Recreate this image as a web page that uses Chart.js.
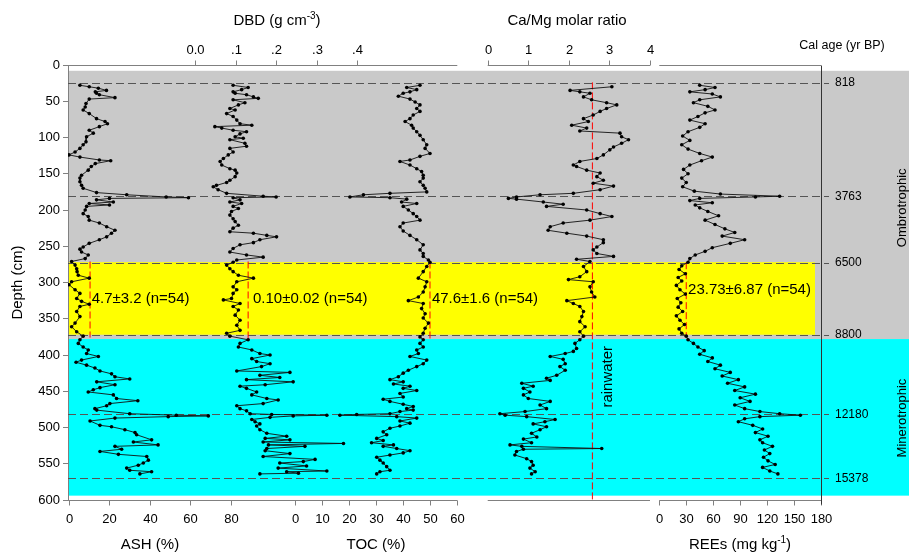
<!DOCTYPE html>
<html>
<head>
<meta charset="utf-8">
<script src="https://cdn.jsdelivr.net/npm/chart.js@4.4.0/dist/chart.umd.min.js"></script>
<style>
  body { margin: 0; background: #fff; }
</style>
</head>
<body>
<canvas id="profileChart" width="909" height="553"></canvas>
<script>
// profiles: [depth (cm), value]
const ashProfile = [[28,5.4],[30,10],[32,14.5],[35,18.5],[37,13],[39,13.6],[41,15],[45,22.7],[47,10],[53,8.4],[58,8],[62,7],[67,10],[74,13.6],[78,17.8],[81,19],[85,15],[90,10],[94,12],[99,8.7],[106,8.4],[110,7],[115,5.4],[120,3],[124,0],[127,5.4],[131,15],[132,20.6],[136,13],[140,11],[145,9.5],[152,6.2],[156,5.4],[161,5.4],[166,6.2],[170,7],[176,13.6],[179,28.5],[182,48],[183,59],[184,20],[186,13.6],[189,21.9],[191,10],[193,20],[195,8.7],[200,8],[205,7],[209,9.5],[214,10],[218,15],[223,18.6],[228,22.7],[232,21],[237,18.6],[241,15],[246,10],[251,7],[254,5.4],[258,6.2],[262,9.5],[267,8],[271,1.3],[276,3],[281,3.8],[285,4],[290,4.6],[294,10],[299,1.3],[303,0],[310,3],[315,5.4],[322,3.8],[326,6.2],[330,10],[333,5.4],[340,3.8],[347,5.4],[356,3],[361,1.3],[368,3.8],[374,7],
  [379,5.4],[384,4.6],[389,7],[393,9.5],[398,8.7],[402,14.5],[407,6.2],[410,3.5],[414,8.7],[418,12.8],[422,15.3],[426,21],[430,22.7],[433,30],[437,13.7],[441,22.7],[445,15.3],[448,12],[451,9.5],[455,21.9],[460,23.5],[463,34],[467,20.2],[470,18.6],[474,12.8],[476,13.7],[481,30],[483,53],[484,68.8],[485,49],[487,22.7],[491,10.4],[497,15.3],[499,21],[503,27.6],[507,32.6],[510,33.4],[517,40.8],[520,31.8],[524,44],[526,22.7],[530,26],[533,15.3],[537,24.4],[540,38.4],[545,39.2],[549,36.7],[552,34.2],[556,28.5],[559,30],[561,40.8],[564,35]];

const dbdProfile = [[28,0.094],[31,0.131],[34,0.115],[37,0.094],[39,0.099],[41,0.127],[44,0.144],[46,0.156],[48,0.094],[52,0.123],[55,0.107],[60,0.086],[62,0.099],[67,0.078],[71,0.094],[76,0.103],[81,0.111],[83,0.140],[85,0.049],[87,0.066],[90,0.094],[92,0.127],[95,0.111],[99,0.099],[101,0.119],[103,0.086],[108,0.123],[112,0.127],[115,0.086],[120,0.094],[124,0.082],[129,0.070],[133,0.062],[138,0.066],[143,0.086],[145,0.099],[149,0.103],[154,0.099],[159,0.086],[162,0.078],[166,0.053],[168,0.045],[172,0.057],[177,0.078],[181,0.168],[182,0.2],[183,0.094],[186,0.111],[189,0.086],[191,0.115],[195,0.094],[198,0.107],[202,0.090],[207,0.086],[212,0.094],[216,0.099],[221,0.107],[225,0.094],[230,0.086],[232,0.144],[235,0.177],[237,0.201],[241,0.160],[245,0.144],[248,0.111],[253,0.094],[258,0.086],[262,0.127],[265,0.168],[269,0.103],[272,0.094],[276,0.078],[281,0.086],[285,0.094],[290,0.107],[294,0.144],[299,0.103],[306,0.094],[310,0.103],[315,0.094],[322,0.090],[324,0.070],[329,0.111],[333,0.094],[338,0.107],[345,0.099],[352,0.111],[359,0.103],[366,0.111],[370,0.078],[374,0.086],
  [379,0.131],[384,0.111],[389,0.107],[393,0.140],[398,0.160],[400,0.185],[405,0.140],[409,0.152],[412,0.185],[416,0.164],[422,0.103],[424,0.234],[428,0.160],[431,0.209],[434,0.127],[437,0.242],[441,0.173],[443,0.111],[446,0.127],[451,0.152],[455,0.140],[460,0.177],[462,0.205],[467,0.168],[470,0.103],[474,0.111],[477,0.127],[481,0.136],[482,0.189],[483,0.325],[484,0.242],[486,0.185],[489,0.140],[492,0.148],[495,0.160],[498,0.152],[503,0.160],[508,0.177],[512,0.226],[515,0.173],[517,0.234],[520,0.168],[522,0.366],[524,0.181],[526,0.271],[529,0.177],[532,0.173],[536,0.234],[540,0.168],[544,0.296],[547,0.267],[549,0.209],[553,0.275],[556,0.205],[560,0.325],[561,0.226],[563,0.255],[564,0.160]];

const tocProfile = [[28,46.2],[31,41.3],[34,45],[37,42.5],[39,40],[43,38.2],[47,42.5],[51,44.4],[55,46.2],[60,45],[64,46.2],[69,43.7],[74,42.5],[78,40.7],[83,43.1],[87,43.7],[92,45],[97,46.2],[103,47.4],[110,48.7],[115,48.1],[122,49.9],[126,46.2],[131,42.5],[133,38.8],[138,42.5],[143,45],[147,46.8],[152,47.4],[156,47.4],[161,46.2],[166,47.4],[170,48.1],[175,48.7],[177,35.1],[179,25.3],[182,20.3],[183,35.1],[185,41.3],[189,39.4],[191,45],[195,40],[200,41.9],[205,43.7],[209,45],[214,46.2],[218,40],[223,38.8],[229,40],[235,42.5],[241,45],[248,47.4],[255,46.2],[260,47.4],[264,47.4],[269,49.3],[272,49.9],[278,48.7],[285,47.4],[294,45.6],[299,48.7],[306,48.1],[313,47.4],[320,45.6],[325,41.9],[329,47.4],[336,46.8],[343,48.1],[349,47.4],[356,49.3],[363,48.1],[370,47.4],[375,46.2],
  [379,47.4],[384,46.2],[389,47.4],[393,45],[398,45.6],[402,42.5],[407,48.7],[412,47.4],[416,45],[421,41.9],[425,40],[430,38.2],[434,35.1],[437,40],[440,36.4],[443,42.5],[446,40],[449,45],[453,38.8],[458,40],[461,32.6],[464,35.1],[468,40],[471,43.7],[474,41.3],[476,43.7],[478,38.8],[481,35.1],[482,22.8],[483,16.6],[485,37.6],[487,45],[491,38.8],[494,42.5],[498,38.8],[501,35.1],[506,32.6],[510,33.9],[515,30.2],[518,32.6],[521,28.3],[524,36.4],[526,32.6],[529,37.6],[532,42.5],[535,40],[538,35.1],[541,30.2],[545,31.4],[549,32.6],[554,33.9],[559,35.1],[561,31.4],[564,30.2]];

const caMgProfile = [[30,3.06],[35,2.03],[37,2.27],[39,2.52],[44,2.36],[48,2.56],[52,2.93],[55,3.18],[60,2.93],[64,2.77],[69,2.6],[74,2.36],[78,2.48],[83,2.07],[87,2.44],[91,2.27],[94,3.26],[99,3.30],[103,3.47],[108,3.30],[113,3.10],[117,3.01],[124,2.85],[129,2.69],[133,2.27],[138,2.11],[140,2.19],[145,2.44],[149,2.77],[154,2.69],[159,2.85],[163,2.6],[167,3.10],[172,2.77],[177,2.11],[179,1.29],[182,0.71],[184,0.51],[185,0.71],[189,1.37],[192,1.86],[195,1.45],[200,2.44],[205,2.77],[209,3.06],[214,2.52],[218,1.86],[223,1.54],[228,1.49],[232,1.95],[236,2.44],[241,2.85],[245,2.85],[251,2.69],[255,2.6],[260,2.69],[264,3.10],[268,2.19],[271,2.52],[278,2.36],[285,2.44],[292,2.27],[296,1.99],[299,2.6],[306,2.52],[313,2.56],[320,2.64],[325,1.95],[329,2.11],[333,2.27],[340,2.36],[347,2.32],[354,2.27],[361,2.40],[368,2.27],[374,2.36],
  [379,2.27],[384,2.15],[391,2.19],[395,2.11],[398,1.91],[402,1.54],[406,1.86],[412,1.91],[416,1.78],[421,1.91],[428,1.70],[432,1.45],[435,1.54],[439,0.84],[443,1.12],[446,0.88],[451,1.04],[455,0.88],[460,1.0],[464,1.54],[469,1.29],[474,1.45],[478,0.92],[481,0.30],[483,0.43],[485,0.96],[489,1.66],[492,1.41],[495,1.12],[499,1.45],[503,1.29],[508,1.08],[513,1.21],[516,0.88],[521,1.08],[524,0.55],[526,0.84],[529,2.81],[530,0.88],[533,0.71],[538,0.67],[543,0.96],[547,1.08],[552,1.12],[556,1.04],[561,1.17],[564,1.08]];

const reeProfile = [[28,45],[31,62],[34,51],[37,34],[40,59],[44,68],[48,45],[52,38],[57,54],[62,62],[66,51],[71,43],[76,34],[81,51],[86,45],[92,32],[98,26],[104,34],[110,25],[116,32],[122,45],[127,59],[132,47],[138,34],[144,27],[150,32],[156,25],[162,30],[168,26],[174,39],[178,68],[181,134],[182,107],[184,45],[187,34],[190,59],[193,40],[197,45],[202,54],[208,66],[214,51],[220,62],[226,73],[231,84],[236,70],[241,95],[246,79],[252,59],[257,51],[262,40],[267,34],[272,32],[277,25],[282,22],[288,29],[293,21],[298,25],[304,19],[310,23],[316,29],[322,20],[328,24],[334,21],[340,26],[346,19],[352,23],[358,28],[364,22],[370,25],[374,30],
  [379,32],[384,38],[389,43],[394,50],[399,45],[404,59],[409,54],[414,68],[419,62],[424,79],[429,70],[434,88],[439,76],[444,95],[449,84],[454,107],[459,90],[464,101],[469,84],[474,95],[478,112],[481,134],[483,157],[485,112],[488,95],[492,88],[497,104],[502,115],[507,107],[512,121],[517,112],[521,115],[526,126],[531,117],[536,123],[541,116],[546,121],[551,129],[555,115],[560,123],[564,132]];

// tick labels
const depthTicks = [0, 50, 100, 150, 200, 250, 300, 350, 400, 450, 500, 550, 600];
const ashTicks = [0, 20, 40, 60, 80];
const tocTicks = [0, 10, 20, 30, 40, 50, 60];
const dbdTicks = [0, 0.1, 0.2, 0.3, 0.4];
const dbdTickLabels = ['0.0', '.1', '.2', '.3', '.4'];
const caMgTicks = [0, 1, 2, 3, 4];
const reeTicks = [0, 30, 60, 90, 120, 150, 180];

// ages and zones (depth, cm)
const ageDepths = [25, 181, 273, 372.5, 482, 570];
const ageLabels = ['818', '3763', '6500', '8800', '12180', '15378'];
const ombroZone = [8, 378];
const yellowZone = [272, 372];
const mineroZone = [378, 594];

// means of the yellow interval and rainwater ratio
const meanAxes = ['xAsh', 'xDbd', 'xToc', 'xRee'];
const meanValues = [10.4, 0.131, 49.9, 30];
const meanDepths = [[271, 376], [271, 380], [271, 380], [272, 374]];
const meanTexts = ['4.7±3.2 (n=54)', '0.10±0.02 (n=54)', '47.6±1.6 (n=54)', '23.73±6.87 (n=54)'];
const rainwaterRatio = 2.58;
const rainwaterDepths = [24, 600];

const FONT = "'Liberation Sans', Arial, sans-serif";
Chart.defaults.font.family = FONT;
Chart.defaults.color = '#000';

function profileSet(data, axis) {
    return {
        data: data.map(([d, v]) => ({ x: v, y: d })),
        xAxisID: axis,
        borderColor: '#111',
        borderWidth: 0.9,
        pointRadius: 1.8,
        pointBackgroundColor: '#000',
        pointBorderWidth: 0,
        fill: false,
        tension: 0
    };
}

function dashedSet(value, depths, axis) {
    return {
        data: depths.map((d) => ({ x: value, y: d })),
        xAxisID: axis,
        borderColor: '#ff0000',
        borderWidth: 1,
        borderDash: [7, 3],
        pointRadius: 0,
        fill: false
    };
}

const datasets = [
    profileSet(ashProfile, 'xAsh'),
    profileSet(dbdProfile, 'xDbd'),
    profileSet(tocProfile, 'xToc'),
    profileSet(caMgProfile, 'xCa'),
    profileSet(reeProfile, 'xRee'),
    dashedSet(rainwaterRatio, rainwaterDepths, 'xCa')
];
meanAxes.forEach((axis, i) => datasets.push(dashedSet(meanValues[i], meanDepths[i], axis)));

function hiddenX(min, max) {
    return { type: 'linear', display: false, min: min, max: max };
}

function line(ctx, x1, y1, x2, y2) {
    ctx.beginPath();
    ctx.moveTo(x1, y1);
    ctx.lineTo(x2, y2);
    ctx.stroke();
}

// text with a superscript part: parts = [[text, sup], ...]
function supText(ctx, parts, cx, cy, size) {
    const main = size + 'px ' + FONT, small = Math.round(size * 0.65) + 'px ' + FONT;
    let total = 0;
    parts.forEach(([t, sup]) => { ctx.font = sup ? small : main; total += ctx.measureText(t).width; });
    let x = cx - total / 2;
    ctx.textAlign = 'left';
    ctx.textBaseline = 'middle';
    parts.forEach(([t, sup]) => {
        ctx.font = sup ? small : main;
        ctx.fillText(t, x, sup ? cy - 5 : cy);
        x += ctx.measureText(t).width;
    });
}

function axisTicks(ctx, scale, values, labels, y, dir, labelY) {
    values.forEach((v, i) => {
        const x = Math.round(scale.getPixelForValue(v)) + 0.5;
        line(ctx, x, y, x, y + dir * 5);
        ctx.fillText(labels[i], x, labelY);
    });
}

const overlay = {
    id: 'overlay',
    beforeDraw(chart) {
        const { ctx, chartArea: a, scales: { y } } = chart;
        const w = chart.width;
        ctx.save();
        ctx.fillStyle = '#c9c9c9';
        ctx.fillRect(a.left, y.getPixelForValue(ombroZone[0]), w - a.left, y.getPixelForValue(ombroZone[1]) - y.getPixelForValue(ombroZone[0]));
        ctx.fillStyle = '#ffff00';
        ctx.fillRect(a.left, y.getPixelForValue(yellowZone[0]), a.right - 6 - a.left, y.getPixelForValue(yellowZone[1]) - y.getPixelForValue(yellowZone[0]));
        ctx.fillStyle = '#00ffff';
        ctx.fillRect(a.left, y.getPixelForValue(mineroZone[0]), w - a.left, y.getPixelForValue(mineroZone[1]) - y.getPixelForValue(mineroZone[0]));
        ctx.restore();
    },
    beforeDatasetsDraw(chart) {
        const { ctx, chartArea: a, scales: { y } } = chart;
        ctx.save();
        ctx.strokeStyle = '#555';
        ctx.lineWidth = 1;
        ctx.setLineDash([8, 4]);
        ageDepths.forEach((d) => {
            const py = Math.round(y.getPixelForValue(d)) + 0.5;
            line(ctx, a.left, py, a.right + 8, py);
        });
        ctx.restore();
    },
    afterDraw(chart) {
        const { ctx, chartArea: a, scales: s } = chart;
        const top = Math.round(a.top) + 0.5, bot = Math.round(a.bottom) + 0.5;
        const tocEnd = s.xToc.getPixelForValue(60);
        const ca0 = s.xCa.getPixelForValue(0), ca4 = s.xCa.getPixelForValue(4);
        const ree0 = s.xRee.getPixelForValue(0);
        ctx.save();
        ctx.strokeStyle = '#808080';
        ctx.lineWidth = 1;
        line(ctx, a.left, top, tocEnd, top);
        line(ctx, ca0, top, ca4, top);
        line(ctx, ree0, top, a.right, top);
        line(ctx, a.left, bot, tocEnd, bot);
        line(ctx, ca0, bot, ca4, bot);
        line(ctx, ree0, bot, a.right, bot);

        ctx.fillStyle = '#000';
        ctx.font = '13px ' + FONT;
        ctx.textAlign = 'center';
        ctx.textBaseline = 'middle';
        axisTicks(ctx, s.xDbd, dbdTicks, dbdTickLabels, top, -1, 50);
        axisTicks(ctx, s.xCa, caMgTicks, caMgTicks.map(String), top, -1, 50);
        axisTicks(ctx, s.xAsh, ashTicks, ashTicks.map(String), bot, 1, 519);
        axisTicks(ctx, s.xToc, tocTicks, tocTicks.map(String), bot, 1, 519);
        axisTicks(ctx, s.xRee, reeTicks, reeTicks.map(String), bot, 1, 519);

        // right border (age axis)
        ctx.strokeStyle = '#333';
        const rx = Math.round(a.right) + 0.5;
        line(ctx, rx, top, rx, bot + 4);

        // axis titles
        supText(ctx, [['DBD (g cm', false], ['-3', true], [')', false]], 277, 21, 15);
        supText(ctx, [['Ca/Mg molar ratio', false]], 567, 21, 15);
        supText(ctx, [['ASH (%)', false]], 150, 545, 15);
        supText(ctx, [['TOC (%)', false]], 376, 545, 15);
        supText(ctx, [['REEs (mg kg', false], ['-1', true], [')', false]], 740, 545, 15);
        ctx.font = '12.5px ' + FONT;
        ctx.textAlign = 'center';
        ctx.fillText('Cal age (yr BP)', 842, 46);

        // age labels
        ctx.font = '12px ' + FONT;
        ctx.textAlign = 'left';
        ageDepths.forEach((d, i) => {
            ctx.fillText(ageLabels[i], a.right + 14, s.y.getPixelForValue(d));
        });

        // mean texts in the yellow interval
        ctx.font = '15px ' + FONT;
        const textX = [11.2, 0.143, 50.6, 32];
        const textDepth = [322.5, 322, 322, 310];
        meanAxes.forEach((axis, i) => {
            ctx.fillText(meanTexts[i], s[axis].getPixelForValue(textX[i]), s.y.getPixelForValue(textDepth[i]));
        });

        // rotated labels
        const rotated = (text, x, y, size) => {
            ctx.save();
            ctx.translate(x, y);
            ctx.rotate(-Math.PI / 2);
            ctx.font = size + 'px ' + FONT;
            ctx.textAlign = 'center';
            ctx.textBaseline = 'middle';
            ctx.fillText(text, 0, 0);
            ctx.restore();
        };
        rotated('rainwater', s.xCa.getPixelForValue(rainwaterRatio) + 15, s.y.getPixelForValue(430), 15);
        rotated('Ombrotrophic', 902, s.y.getPixelForValue(197), 13);
        rotated('Minerotrophic', 902, s.y.getPixelForValue(487), 13);
        ctx.restore();
    }
};

new Chart(document.getElementById('profileChart').getContext('2d'), {
    type: 'line',
    data: { datasets: datasets },
    options: {
        responsive: false,
        devicePixelRatio: 1,
        animation: false,
        events: [],
        layout: { padding: { left: 0, top: 65, right: 88, bottom: 53 } },
        plugins: { legend: { display: false }, tooltip: { enabled: false } },
        scales: {
            y: {
                type: 'linear',
                reverse: true,
                min: 0,
                max: 600,
                afterBuildTicks: (scale) => { scale.ticks = depthTicks.map((v) => ({ value: v })); },
                afterFit: (scale) => { scale.width = 68; },
                ticks: { font: { size: 13 }, color: '#000', padding: 3 },
                grid: { drawOnChartArea: false, tickLength: 5, color: '#808080' },
                border: { color: '#808080' },
                title: { display: true, text: 'Depth (cm)', font: { size: 15 }, color: '#000', padding: { top: 9, bottom: 0 } }
            },
            xAsh: hiddenX(-0.49, 371.36),
            xDbd: hiddenX(-0.313, 1.543),
            xToc: hiddenX(-83.92, 194.45),
            xCa: hiddenX(-10.344, 8.214),
            xRee: hiddenX(-658.2, 180)
        }
    },
    plugins: [overlay]
});
</script>
</body>
</html>
